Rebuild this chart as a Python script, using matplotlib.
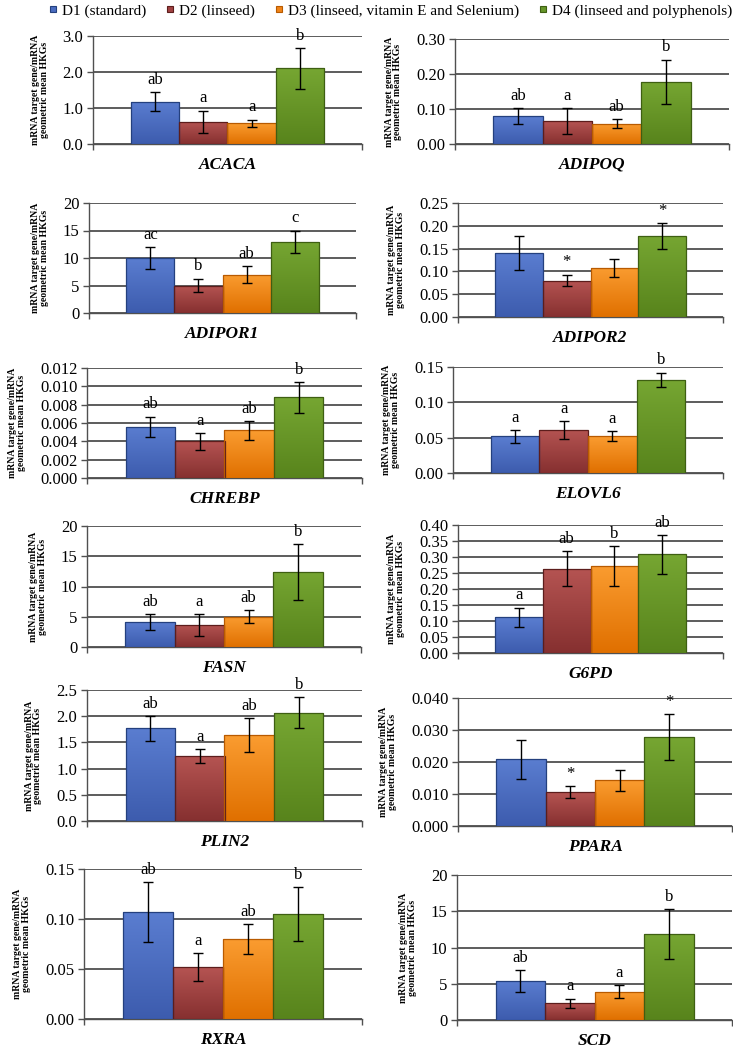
import matplotlib
matplotlib.use('Agg')
import matplotlib.pyplot as plt
from matplotlib.lines import Line2D
from matplotlib.ticker import FormatStrFormatter
from matplotlib.colors import LinearSegmentedColormap
import numpy as np

plt.rcParams['font.family'] = ['Liberation Serif', 'DejaVu Serif']

# ---------------- data ----------------
genes = ['ACACA', 'ADIPOQ', 'ADIPOR1', 'ADIPOR2', 'CHREBP', 'ELOVL6',
         'FASN', 'G6PD', 'PLIN2', 'PPARA', 'RXRA', 'SCD']
diets = ['D1 (standard)', 'D2 (linseed)',
         'D3 (linseed, vitamin E and Selenium)', 'D4 (linseed and polyphenols)']

d1_mean = [1.18, 0.080, 10.0, 0.140, 0.0056, 0.052, 4.1, 0.112, 1.77, 0.0208, 0.107, 5.4]
d2_mean = [0.62, 0.065, 5.0, 0.080, 0.0040, 0.061, 3.7, 0.264, 1.24, 0.0106, 0.052, 2.3]
d3_mean = [0.57, 0.058, 7.0, 0.108, 0.0052, 0.052, 5.0, 0.272, 1.64, 0.0143, 0.080, 3.9]
d4_mean = [2.10, 0.178, 13.0, 0.178, 0.0088, 0.132, 12.4, 0.308, 2.07, 0.0278, 0.105, 11.9]

d1_err = [0.26, 0.022, 2.0, 0.037, 0.0011, 0.009, 1.3, 0.030, 0.24, 0.0060, 0.030, 1.5]
d2_err = [0.31, 0.037, 1.25, 0.013, 0.0009, 0.013, 1.8, 0.054, 0.14, 0.0018, 0.014, 0.65]
d3_err = [0.11, 0.013, 1.5, 0.020, 0.0010, 0.007, 1.05, 0.062, 0.33, 0.0033, 0.015, 0.9]
d4_err = [0.57, 0.063, 2.0, 0.028, 0.0017, 0.010, 4.6, 0.060, 0.29, 0.0072, 0.027, 3.45]

d1_letter = ['ab', 'ab', 'ac', '', 'ab', 'a', 'ab', 'a', 'ab', '', 'ab', 'ab']
d2_letter = ['a', 'a', 'b', '*', 'a', 'a', 'a', 'ab', 'a', '*', 'a', 'a']
d3_letter = ['a', 'ab', 'ab', '', 'ab', 'a', 'ab', 'b', 'ab', '', 'ab', 'a']
d4_letter = ['b', 'b', 'c', '*', 'b', 'b', 'b', 'ab', 'b', '*', 'b', 'b']

y_max = [3.0, 0.30, 20, 0.25, 0.012, 0.15, 20, 0.40, 2.5, 0.040, 0.15, 20]
y_step = [1.0, 0.10, 5, 0.05, 0.002, 0.05, 5, 0.05, 0.5, 0.010, 0.05, 5]
y_fmt = ['%.1f', '%.2f', '%d', '%.2f', '%.3f', '%.2f', '%d', '%.2f', '%.1f', '%.3f', '%.2f', '%d']

# ---------------- layout (pixels: left, right, top, bottom) ----------------
W, H = 733, 1048
boxes = [
    (93, 362, 36, 144), (455, 729, 39, 144),
    (89, 356, 203, 313), (458, 723, 203, 317),
    (87, 362, 368, 478), (453, 723, 367, 473),
    (87, 361, 526, 647), (458, 723, 525, 653),
    (87, 362, 690, 821), (458, 732, 698, 826),
    (84, 362, 869, 1019), (457, 732, 875, 1020),
]

top_cols = ['#5A7DD0', '#B55452', '#FA9C30', '#76A632']
bot_cols = ['#3D5CAE', '#863030', '#E07000', '#58841C']
edge_cols = ['#24407E', '#5C1D1C', '#B85A00', '#3E5F12']
mid_cols = ['#4A6CC0', '#A04242', '#F08418', '#66962A']

fig = plt.figure(figsize=(W / 100, H / 100), dpi=100)

means_all = [d1_mean, d2_mean, d3_mean, d4_mean]
errs_all = [d1_err, d2_err, d3_err, d4_err]
lets_all = [d1_letter, d2_letter, d3_letter, d4_letter]

grad = np.linspace(0, 1, 64).reshape(-1, 1)

for i, g in enumerate(genes):
    l, r, t, b = boxes[i]
    ax = fig.add_axes([l / W, 1 - b / H, (r - l) / W, (b - t) / H])
    means = [m[i] for m in means_all]
    errs = [e[i] for e in errs_all]
    lets = [s[i] for s in lets_all]
    bw = 0.18
    x = (np.arange(4) - 1.5) * bw
    bars = ax.bar(x, means, width=bw, color='none', edgecolor=edge_cols,
                  linewidth=0.9, zorder=4)
    for k, p in enumerate(bars.patches):
        cmap = LinearSegmentedColormap.from_list('g%d' % k, [bot_cols[k], top_cols[k]])
        x0, y0 = p.get_x(), p.get_y()
        im = ax.imshow(grad, extent=[x0, x0 + p.get_width(), y0, y0 + p.get_height()],
                       origin='lower', cmap=cmap, aspect='auto', zorder=3,
                       interpolation='bilinear')
        im.set_clip_path(p)
    ax.errorbar(x, means, yerr=errs, fmt='none', ecolor='black',
                elinewidth=1.0, capsize=3.5, capthick=1.0, zorder=6)
    for k in range(4):
        if lets[k]:
            ax.annotate(lets[k], xy=(x[k], means[k] + errs[k]), xytext=(0, 3),
                        textcoords='offset points', ha='center', va='bottom',
                        fontsize=12, zorder=7, annotation_clip=False)
    ax.set_xlim(-0.5, 0.5)
    ax.set_ylim(0, y_max[i])
    ax.set_yticks(np.arange(0, y_max[i] + y_step[i] / 2, y_step[i]))
    ax.yaxis.set_major_formatter(FormatStrFormatter(y_fmt[i]))
    ax.set_xticks([-0.5, 0.5])
    ax.set_xticklabels(['', ''])
    ax.set_axisbelow(True)
    ax.grid(axis='y', color='#303030', linewidth=1.1, zorder=0)
    for s in ['top', 'right']:
        ax.spines[s].set_visible(False)
    for s in ['left', 'bottom']:
        ax.spines[s].set_color('#505050')
        ax.spines[s].set_linewidth(1.0)
    ax.tick_params(axis='both', direction='out', length=4, width=1,
                   color='#505050', labelsize=12, pad=3)
    ax.set_ylabel('mRNA target gene/mRNA\ngeometric mean HKGs', fontsize=7,
                  fontweight='bold', labelpad=10, linespacing=0.95)
    ax.annotate(g, xy=(0.5, 0), xycoords='axes fraction', xytext=(0, -15),
                textcoords='offset points', ha='center', va='center',
                fontsize=12.5, fontweight='bold', fontstyle='italic')
    ax.set_facecolor('none')

handles = [Line2D([0], [0], marker='s', linestyle='none', markersize=5,
                  markerfacecolor=mid_cols[k], markeredgecolor=edge_cols[k],
                  markeredgewidth=0.8) for k in range(4)]
fig.legend(handles, diets, loc='center', bbox_to_anchor=(390 / W, 1 - 11 / H),
           ncol=4, frameon=False, fontsize=11, handlelength=0.7,
           handletextpad=0.25, columnspacing=1.2, borderpad=0)

fig.savefig('out.png', dpi=100, facecolor='white')
